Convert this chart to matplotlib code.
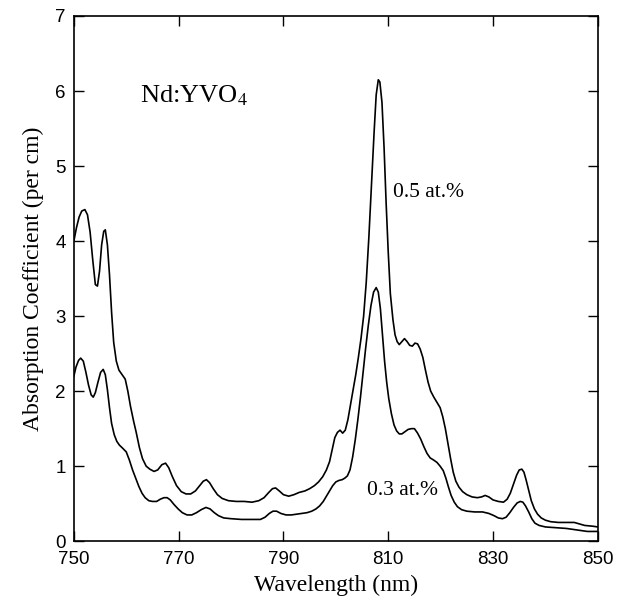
import numpy as np
import matplotlib
matplotlib.use("Agg")
import matplotlib.pyplot as plt

# wavelength (nm) / absorption (per cm)
# 0.5 at.% sample
wl_05 = [750.0, 750.5, 751.0, 751.5, 752.1, 752.6, 753.1, 753.6, 754.1, 754.5,
         754.9, 755.3, 755.7, 756.0, 756.4, 756.8, 757.2, 757.6, 758.1, 758.6,
         759.2, 759.8, 760.3, 760.8, 761.4, 761.9, 762.5, 763.1, 763.8, 764.5,
         765.3, 766.0, 766.8, 767.5, 768.1, 768.8, 769.6, 770.5, 771.4, 772.3,
         773.2, 774.0, 774.7, 775.3, 775.9, 776.6, 777.4, 778.3, 779.5, 781.0,
         782.5, 784.0, 785.3, 786.3, 787.2, 787.9, 788.5, 789.2, 790.0, 791.0,
         792.0, 793.0, 794.1, 795.0, 795.9, 796.7, 797.5, 798.2, 798.8, 799.3,
         799.8, 800.3, 800.8, 801.3, 801.8, 802.3, 802.8, 803.3, 803.8, 804.3,
         804.8, 805.3, 805.8, 806.3, 806.8, 807.3, 807.7, 808.1, 808.4, 808.8,
         809.2, 809.6, 810.0, 810.4, 810.9, 811.3, 811.7, 812.1, 812.6, 813.1,
         813.6, 814.1, 814.6, 815.1, 815.6, 816.1, 816.6, 817.1, 817.6, 818.1,
         818.7, 819.3, 819.9, 820.4, 820.9, 821.4, 821.9, 822.4, 822.9, 823.5,
         824.2, 825.0, 826.0, 827.0, 827.8, 828.5, 829.2, 830.0, 831.0, 832.0,
         832.7, 833.3, 833.9, 834.5, 835.0, 835.5, 835.9, 836.3, 836.8, 837.3,
         837.9, 838.5, 839.2, 840.0, 841.0, 842.5, 844.0, 845.5, 846.5, 847.5,
         849.0, 850.0]
abs_05 = [4.00, 4.18, 4.32, 4.40, 4.42, 4.35, 4.12, 3.75, 3.42, 3.40,
          3.60, 3.95, 4.13, 4.15, 3.95, 3.55, 3.05, 2.65, 2.40, 2.28,
          2.22, 2.16, 2.00, 1.80, 1.60, 1.45, 1.25, 1.10, 1.00, 0.96,
          0.93, 0.95, 1.02, 1.04, 0.98, 0.86, 0.74, 0.66, 0.63, 0.63,
          0.67, 0.74, 0.80, 0.82, 0.78, 0.70, 0.62, 0.57, 0.54, 0.53,
          0.53, 0.52, 0.54, 0.58, 0.65, 0.70, 0.71, 0.67, 0.62, 0.60,
          0.62, 0.65, 0.67, 0.70, 0.74, 0.79, 0.86, 0.95, 1.06, 1.22,
          1.38, 1.45, 1.48, 1.44, 1.48, 1.62, 1.82, 2.02, 2.22, 2.45,
          2.70, 3.00, 3.45, 4.05, 4.75, 5.45, 5.95, 6.15, 6.12, 5.85,
          5.25, 4.50, 3.85, 3.30, 2.95, 2.75, 2.66, 2.62, 2.66, 2.70,
          2.66, 2.61, 2.60, 2.64, 2.63, 2.56, 2.45, 2.28, 2.12, 2.00,
          1.92, 1.85, 1.78, 1.66, 1.50, 1.30, 1.10, 0.92, 0.80, 0.72,
          0.66, 0.62, 0.59, 0.58, 0.59, 0.61, 0.59, 0.55, 0.53, 0.52,
          0.56, 0.64, 0.76, 0.88, 0.95, 0.96, 0.92, 0.82, 0.68, 0.54,
          0.43, 0.36, 0.31, 0.28, 0.26, 0.25, 0.25, 0.25, 0.23, 0.21,
          0.20, 0.19]

# 0.3 at.% sample
wl_03 = [750.0, 750.4, 750.9, 751.3, 751.8, 752.3, 752.8, 753.3, 753.7, 754.1,
         754.6, 755.1, 755.6, 756.0, 756.4, 756.8, 757.2, 757.7, 758.2, 758.7,
         759.3, 760.0, 760.6, 761.2, 761.8, 762.4, 763.0, 763.6, 764.3, 765.0,
         765.8, 766.5, 767.2, 767.8, 768.4, 769.1, 769.9, 770.7, 771.6, 772.5,
         773.4, 774.3, 775.2, 776.0, 776.8, 777.6, 778.6, 780.0, 782.0, 784.0,
         785.6, 786.5, 787.3, 788.0, 788.7, 789.5, 790.5, 791.5, 792.5, 793.5,
         794.5, 795.4, 796.2, 796.9, 797.6, 798.2, 798.8, 799.4, 800.0, 800.6,
         801.2, 801.7, 802.2, 802.7, 803.2, 803.7, 804.2, 804.7, 805.2, 805.7,
         806.2, 806.7, 807.2, 807.7, 808.1, 808.5, 808.9, 809.3, 809.7, 810.1,
         810.6, 811.1, 811.6, 812.1, 812.6, 813.2, 813.8, 814.4, 815.0, 815.6,
         816.2, 816.8, 817.4, 818.0, 818.7, 819.3, 819.9, 820.5, 821.0, 821.5,
         822.0, 822.6, 823.2, 824.0, 825.0, 826.5, 828.0, 829.2, 830.2, 831.0,
         831.8, 832.5, 833.2, 833.9, 834.6, 835.2, 835.7, 836.2, 836.8, 837.4,
         838.0, 838.8, 840.0, 842.0, 844.0, 846.0, 848.0, 850.0]
abs_03 = [2.20, 2.32, 2.41, 2.44, 2.40, 2.25, 2.08, 1.95, 1.92, 1.98,
          2.12, 2.25, 2.29, 2.22, 2.02, 1.78, 1.57, 1.42, 1.33, 1.28,
          1.24, 1.19, 1.08, 0.95, 0.84, 0.73, 0.64, 0.58, 0.54, 0.53,
          0.53, 0.56, 0.58, 0.58, 0.55, 0.49, 0.43, 0.38, 0.35, 0.35,
          0.38, 0.42, 0.45, 0.43, 0.38, 0.34, 0.31, 0.30, 0.29, 0.29,
          0.29, 0.32, 0.37, 0.40, 0.40, 0.37, 0.35, 0.35, 0.36, 0.37,
          0.38, 0.40, 0.43, 0.47, 0.53, 0.60, 0.67, 0.74, 0.79, 0.81,
          0.82, 0.84, 0.87, 0.95, 1.12, 1.35, 1.62, 1.92, 2.25, 2.58,
          2.88, 3.14, 3.32, 3.38, 3.32, 3.10, 2.75, 2.40, 2.12, 1.90,
          1.70, 1.55, 1.47, 1.43, 1.43, 1.46, 1.49, 1.50, 1.50, 1.44,
          1.36, 1.26, 1.17, 1.11, 1.08, 1.05, 1.00, 0.94, 0.84, 0.72,
          0.61, 0.52, 0.46, 0.42, 0.40, 0.39, 0.39, 0.37, 0.34, 0.31,
          0.30, 0.32, 0.38, 0.45, 0.51, 0.53, 0.52, 0.47, 0.39, 0.30,
          0.24, 0.21, 0.19, 0.18, 0.17, 0.15, 0.13, 0.13]

plt.rcParams['font.family'] = ['Liberation Serif', 'DejaVu Serif']
plt.rcParams['mathtext.fontset'] = 'stix'

fig = plt.figure(figsize=(6.26, 6.15), dpi=100)
ax = fig.add_axes([0.118, 0.120, 0.837, 0.854])

ax.plot(wl_05, abs_05, color='black', linewidth=1.2)
ax.plot(wl_03, abs_03, color='black', linewidth=1.2)

ax.set_xlim(750, 850)
ax.set_ylim(0, 7)
ax.set_xticks(np.arange(750, 851, 20))
ax.set_yticks(np.arange(0, 8, 1))
ax.tick_params(direction='in', top=True, right=True, length=7, width=1,
               labelsize=13.5)
ax.tick_params(axis='x', pad=7)
ax.tick_params(axis='y', pad=6)
for lab in ax.get_xticklabels() + ax.get_yticklabels():
    lab.set_family('Liberation Sans')
for sp in ax.spines.values():
    sp.set_linewidth(1.2)

ax.set_xlabel('Wavelength (nm)', fontsize=17, labelpad=5)
ax.set_ylabel('Absorption Coefficient (per cm)', fontsize=17, labelpad=8)

ax.text(762.6, 5.85, 'Nd:YVO$_4$', fontsize=19, ha='left', va='baseline')
ax.text(810.9, 4.65, '0.5 at.%', fontsize=15.5, ha='left', va='center')
ax.text(805.9, 0.68, '0.3 at.%', fontsize=15.5, ha='left', va='center')

fig.savefig('out.png', dpi=100)
